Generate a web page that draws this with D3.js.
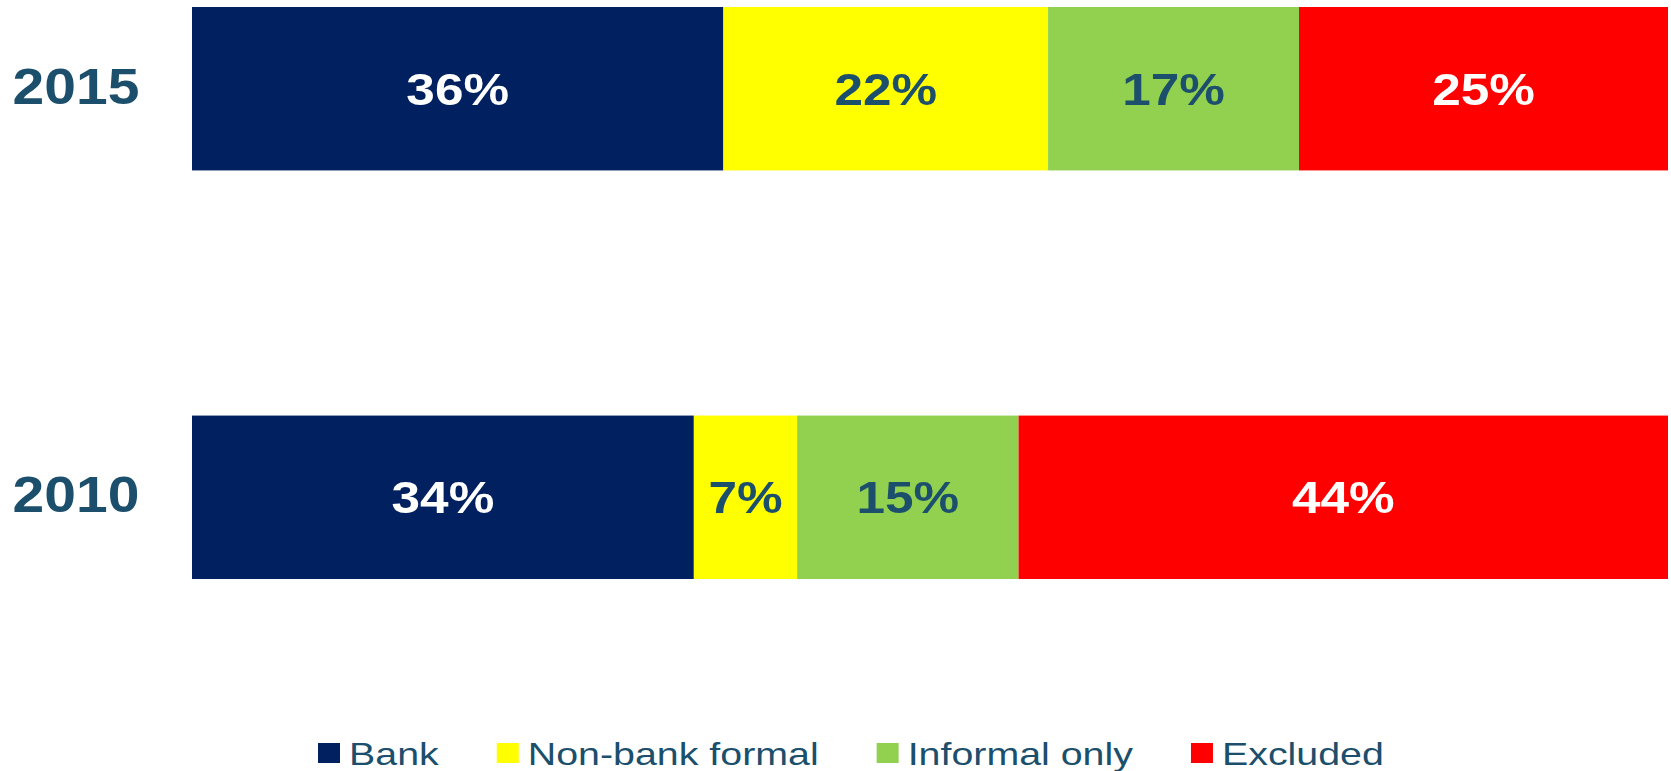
<!DOCTYPE html>
<html lang="en">
<head>
    <meta charset="UTF-8">
    <title>Financial inclusion 2010 vs 2015</title>
    <script src="https://cdn.jsdelivr.net/npm/d3@7"></script>
    <style>
        body { margin: 0; background: #fff; }
        svg { display: block; font-family: "Liberation Sans", Arial, sans-serif; }
    </style>
</head>
<body>
    <div id="chart"></div>
    <script>
        // data
        const years = ["2015", "2010"];
        const categories = ["Bank", "Non-bank formal", "Informal only", "Excluded"];
        const bank = [36, 34];
        const nonBank = [22, 7];
        const informal = [17, 15];
        const excluded = [25, 44];

        const colors = ["#002060", "#ffff00", "#92d050", "#ff0000"];
        const labelColors = ["#ffffff", "#1b4f6c", "#1b4f6c", "#ffffff"];
        const textColor = "#1b4f6c";

        const width = 1671, height = 771;
        const stretch = 1.14;       // the picture's text is slightly wide
        const legendStretch = 1.23;

        const svg = d3.select("#chart").append("svg")
            .attr("width", width)
            .attr("height", height);

        const x = d3.scaleLinear().domain([0, 100]).range([192, 1668]);
        const y = d3.scaleBand().domain(years).range([7, 579]).paddingInner(0.6).paddingOuter(0);

        const series = [bank, nonBank, informal, excluded];
        const rows = years.map((yr, i) => {
            const obj = { year: yr };
            categories.forEach((c, j) => obj[c] = series[j][i]);
            return obj;
        });
        const stacked = d3.stack().keys(categories)(rows);

        const layer = svg.selectAll("g.layer")
            .data(stacked)
            .join("g")
            .attr("class", "layer");

        layer.selectAll("rect")
            .data(d => d.map(p => ({ p, key: d.key, idx: d.index })))
            .join("rect")
            .attr("x", d => x(d.p[0]))
            .attr("y", d => y(d.p.data.year))
            .attr("width", d => x(d.p[1]) - x(d.p[0]))
            .attr("height", y.bandwidth())
            .attr("fill", d => colors[d.idx]);

        layer.selectAll("text")
            .data(d => d.map(p => ({ p, key: d.key, idx: d.index })))
            .join("text")
            .attr("transform", d => `translate(${(x(d.p[0]) + x(d.p[1])) / 2},${y(d.p.data.year) + y.bandwidth() / 2 + 16}) scale(${stretch},1)`)
            .attr("text-anchor", "middle")
            .attr("font-size", 45)
            .attr("font-weight", "bold")
            .attr("fill", d => labelColors[d.idx])
            .text(d => (d.p[1] - d.p[0]) + "%");

        // year labels
        svg.selectAll("text.year")
            .data(years)
            .join("text")
            .attr("class", "year")
            .attr("transform", d => `translate(76,${y(d) + y.bandwidth() / 2 + 15}) scale(${stretch},1)`)
            .attr("text-anchor", "middle")
            .attr("font-size", 50)
            .attr("font-weight", "bold")
            .attr("fill", textColor)
            .text(d => d);

        // legend
        const legend = svg.append("g").attr("transform", "translate(0,743)");
        const items = legend.selectAll("g")
            .data(categories)
            .join("g");

        items.append("rect")
            .attr("width", 22)
            .attr("height", 20)
            .attr("fill", (d, i) => colors[i]);

        items.append("text")
            .attr("transform", `translate(31,22) scale(${legendStretch},1)`)
            .attr("font-size", 32)
            .attr("fill", textColor)
            .text(d => d);

        const gap = 58;
        let pos = 0;
        const starts = [];
        items.each(function () {
            starts.push(pos);
            pos += this.getBBox().width + gap;
        });
        const left = 318;
        items.attr("transform", (d, i) => `translate(${left + starts[i]},0)`);
    </script>
</body>
</html>
